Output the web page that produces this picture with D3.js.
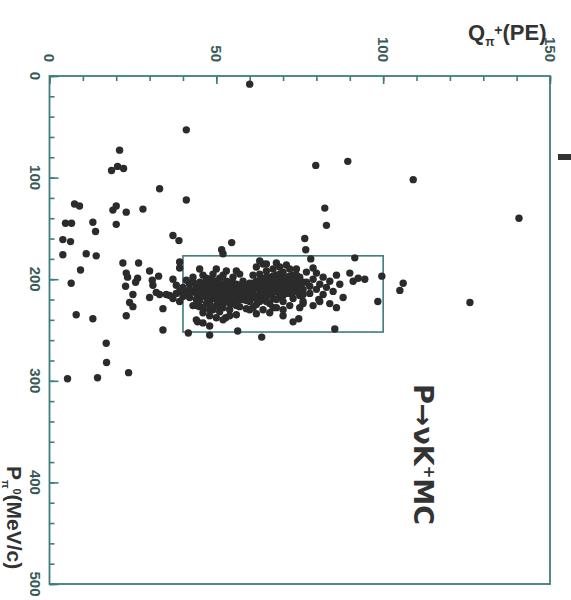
<!DOCTYPE html>
<html><head><meta charset="utf-8">
<script src="https://cdn.jsdelivr.net/npm/d3@7"></script>
<style>body{margin:0;background:#fff}svg{display:block}</style>
</head><body><svg id="c" width="571" height="600"></svg>
<script>
// Q_pi+ (PE) tick labels and P_pi0 (MeV/c) tick labels
const qTickLabels = [0, 50, 100, 150];
const pTickLabels = [0, 100, 200, 300, 400, 500];

// events outside the dense core: [Q (PE), P (MeV/c)]
const scatteredEvents = [
  [60,8],[41,53],[21,73],[18.6,93],[20.4,89],[22.2,91],[33,111],[41,122],[7.5,126],[9,128],
  [19,132],[20,128],[23,134],[28,131],[20,146],[4.8,145],[6.6,145],[13,144],[13.8,153],[37,157],
  [38.8,162],[4,161],[6.3,163],[4,176],[11,175],[14,177],[9.3,191],[22,184],[26.7,184],[39,183],
  [39,189],[6.5,204],[23,194],[23.4,198],[26.4,199],[25.8,203],[30,192],[30.8,201],[32.7,197],[22.8,207],
  [25,215],[31,206],[32,213],[30,218],[24,223],[25,227],[23,236],[34,229],[8,235],[13,239],
  [34,250],[17,263],[39,222],[41.6,253],[17.1,282],[23.7,292],[5.4,298],[14.4,297],
  [48,246],[48,255],[56.4,251],[63.6,257],[85.5,249],[70,236],[73,242],[74.7,239],[52.8,238],[61,228],
  [67,228],[44.4,242],[76,224],[80.7,220],[98.4,222],
  [79.8,88],[89.4,84],[109,102],[140.7,140],[82.5,130],[83,147],[76.5,160],[76.8,171],[78.3,180],[91.5,179],
  [79,189],[126,223],[106,204],[105,211],[54.6,164],[51.6,171],[52,175],[90,194],[91,202],[92.5,199],
  [94.5,200],[99.6,197]
];

// dense core of events
const coreEvents = [
  [42,205],[43,212],[43,198],[44,220],[44,208],[45,203],[45,215],[45,227],[46,210],[46,196],
  [46,233],[47,218],[47,205],[47,224],[48,200],[48,212],[48,230],[49,208],[49,219],[49,195],
  [50,226],[50,214],[50,203],[50,238],[51,210],[51,221],[51,199],[51,232],[52,207],[52,216],
  [52,228],[53,202],[53,212],[53,222],[53,192],[54,209],[54,218],[54,230],[55,204],[55,214],
  [55,198],[55,224],[56,210],[56,219],[56,235],[57,206],[57,215],[57,227],[57,195],[58,211],
  [58,220],[58,202],[59,216],[59,208],[59,229],[60,204],[60,213],[60,222],[44,240],[46,243],
  [48,236],[52,240],[54,236],[42,218],[43,226],[41,213],[40,208],[41,201],[45,190],[50,190],
  [56,192],
  [61,196],[61,210],[61,218],[62,202],[62,225],[62,188],[63,207],[63,215],[63,195],[64,212],
  [64,220],[64,200],[64,230],[65,185],[65,205],[65,217],[65,192],[66,209],[66,198],[66,224],
  [67,213],[67,203],[67,190],[67,219],[68,207],[68,196],[68,228],[68,184],[69,211],[69,201],
  [69,216],[70,205],[70,193],[70,222],[71,209],[71,198],[71,186],[72,214],[72,203],[72,226],
  [73,196],[73,208],[73,219],[74,201],[74,212],[74,190],[75,206],[75,216],[75,198],[76,210],
  [76,222],[77,203],[77,193],[78,214],[78,207],[60,230],[62,234],[66,233],[70,230],[64,185],
  [69,188],[72,190],[75,228],[63,182],
  [79,200],[80,210],[80,194],[81,205],[82,215],[82,198],[83,208],[84,202],[85,212],[86,196],
  [87,205],[88,218],[84,224],[81,222],[86,228],[79,226],
  [33,215],[35,215],[36,216],[38,214],[39,212],[40,217],[37,219],[37,200],[38,206]
];

// additional events filling the densest part of the core
const coreFillEvents = [
  [42,210],[43,203],[44,214],[44,226],[45,209],[45,221],[46,204],[46,216],[46,228],[47,211],
  [47,199],[48,218],[48,206],[48,224],[49,213],[49,201],[49,230],[50,208],[50,220],[51,215],
  [51,204],[51,227],[52,211],[52,222],[52,196],[53,207],[53,217],[54,203],[54,213],[54,224],
  [55,209],[55,219],[56,205],[56,214],[56,226],[57,210],[57,220],[58,207],[58,216],[59,212],
  [59,221],[60,208],[60,217],
  [61,204],[61,214],[62,208],[62,219],[63,201],[63,211],[63,222],[64,206],[64,216],[65,198],
  [65,210],[65,222],[66,203],[66,214],[67,208],[67,197],[68,212],[68,201],[68,220],[69,206],
  [69,195],[70,210],[70,199],[70,216],[71,204],[71,214],[72,208],[72,197],[73,202],[73,213],
  [74,207],[74,196],[75,211],[76,203],[76,215]
];

// selection box limits: Q range and P range
const boxQ = [40, 100];
const boxP = [177, 252];

const svg = d3.select("#c");
const x = d3.scaleLinear().domain([0,150]).range([49.5,550]);
const y = d3.scaleLinear().domain([0,500]).range([76,584]);
const teal = "#3f7c7d";
const ink = "#2b2b2b";
const font = "'Liberation Sans', Arial, Helvetica, sans-serif";

// ticks (inward)
const gx = svg.append("g").attr("transform",`translate(0,${y(0)})`)
  .call(d3.axisTop(x).tickValues(d3.range(0,151,10)).tickSize(-5).tickFormat(""));
const gxM = svg.append("g").attr("transform",`translate(0,${y(0)})`)
  .call(d3.axisTop(x).tickValues(qTickLabels).tickSize(-8).tickFormat(""));
const gy = svg.append("g").attr("transform",`translate(${x(0)},0)`)
  .call(d3.axisLeft(y).tickValues(d3.range(0,501,20)).tickSize(-5).tickFormat(""));
const gyM = svg.append("g").attr("transform",`translate(${x(0)},0)`)
  .call(d3.axisLeft(y).tickValues(pTickLabels).tickSize(-9).tickFormat(""));
[gx,gxM,gy,gyM].forEach(g=>{
  g.select(".domain").remove();
  g.selectAll("line").attr("stroke",teal).attr("stroke-width",1.6);
});

// frame
svg.append("rect")
  .attr("x",x(0)).attr("y",y(0))
  .attr("width",x(150)-x(0)).attr("height",y(500)-y(0))
  .attr("fill","none").attr("stroke",teal).attr("stroke-width",1.8);

// tick labels (rotated)
svg.selectAll(".qlab").data(qTickLabels).join("text")
  .attr("transform",d=>`translate(${x(d)},62) rotate(90)`)
  .attr("text-anchor","end").attr("dy","0.35em")
  .attr("font-family",font).attr("font-size",15).attr("font-weight","bold")
  .attr("fill","#3a5a5a").text(d=>d);
svg.selectAll(".plab").data(pTickLabels).join("text")
  .attr("transform",d=>`translate(35,${y(d)}) rotate(90)`)
  .attr("text-anchor","middle").attr("dy","0.35em")
  .attr("font-family",font).attr("font-size",15).attr("font-weight","bold")
  .attr("fill","#3a5a5a").text(d=>d);

// selection box
svg.append("rect")
  .attr("x",x(boxQ[0])).attr("y",y(boxP[0]))
  .attr("width",x(boxQ[1])-x(boxQ[0])).attr("height",y(boxP[1])-y(boxP[0]))
  .attr("fill","none").attr("stroke",teal).attr("stroke-width",1.6);

// events
svg.append("g").selectAll("circle")
  .data(scatteredEvents.concat(coreEvents, coreFillEvents)).join("circle")
  .attr("cx",d=>x(d[0])).attr("cy",d=>y(d[1])).attr("r",3.7).attr("fill",ink);

// axis titles
const qt = svg.append("text").attr("x",468).attr("y",40)
  .attr("font-family",font).attr("font-weight","bold").attr("font-size",22).attr("fill","#333");
qt.append("tspan").text("Q");
qt.append("tspan").attr("font-size",12).attr("dy",6).text("π");
qt.append("tspan").attr("font-size",14).attr("dy",-11).text("+");
qt.append("tspan").attr("dy",5).text("(PE)");

const pt = svg.append("text").attr("transform","translate(14,466) rotate(90)")
  .attr("font-family",font).attr("font-weight","bold").attr("font-size",21).attr("fill","#333")
  .attr("dy","0.35em");
pt.append("tspan").text("P");
pt.append("tspan").attr("font-size",11).attr("dy",5).text("π");
pt.append("tspan").attr("font-size",11).attr("dy",-11).text("0");
pt.append("tspan").attr("dy",6).text("(MeV/c)");

const lt = svg.append("text").attr("transform","translate(423,384) rotate(90)")
  .attr("font-family","'DejaVu Sans', sans-serif").attr("font-weight","bold").attr("font-size",27).attr("fill","#333")
  .attr("dy","0.35em");
lt.append("tspan").text("P→νK");
lt.append("tspan").attr("font-size",15).attr("dy",-10).text("+");
lt.append("tspan").attr("dy",10).text("MC");

// page-edge mark
svg.append("rect").attr("x",558).attr("y",154).attr("width",13).attr("height",6).attr("fill","#333");
</script></body></html>
